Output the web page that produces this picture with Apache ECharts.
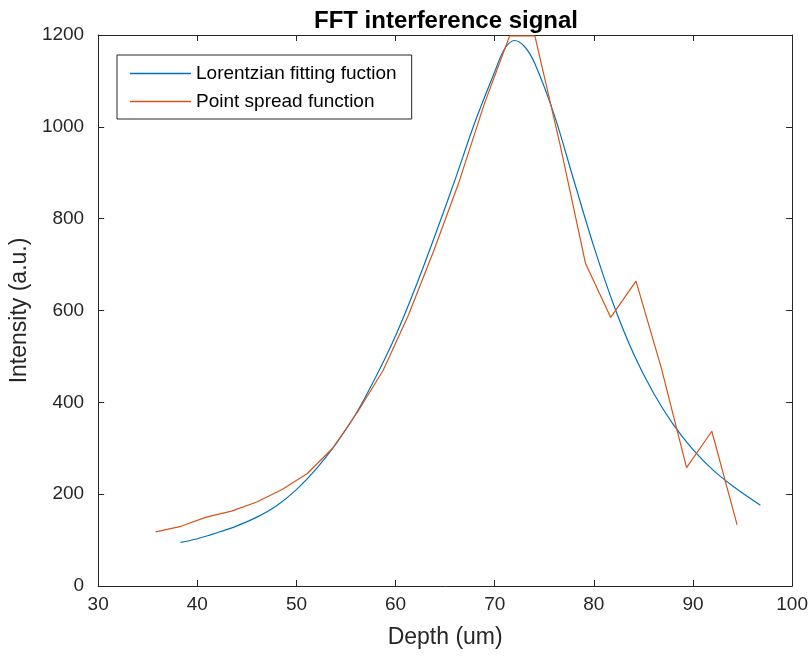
<!DOCTYPE html>
<html>
<head>
<meta charset="utf-8">
<script src="https://cdn.jsdelivr.net/npm/echarts@6/dist/echarts.min.js"></script>
<style>
  html, body { margin: 0; padding: 0; background: #fff; }
  #chart { width: 811px; height: 657px; }
</style>
</head>
<body>
<div id="chart"></div>
<script>
// Lorentzian fit, sampled along depth (um)
const fitDepth = [38.3, 40, 42, 44, 46, 48, 50, 52, 54, 56, 58, 60, 62, 64, 66, 68, 70, 71, 72, 73, 74, 76, 78, 80, 82, 84, 86, 88, 90, 92, 94, 96.8];
const fitIntensity = [95, 103, 116, 131, 150, 175, 210, 255, 310, 375, 455, 545, 650, 765, 885, 1010, 1120, 1170, 1188, 1175, 1140, 1026, 882, 739, 612, 506, 421, 352, 297, 253, 218, 176];

// Measured point spread function
const psfDepth = [35.8, 38.35, 40.9, 43.45, 46.0, 48.55, 51.1, 53.65, 56.2, 58.75, 61.3, 63.85, 66.4, 68.95, 71.5, 74.05, 76.6, 79.15, 81.7, 84.25, 86.8, 89.35, 91.9, 94.45];
const psfIntensity = [118, 130, 150, 163, 183, 210, 245, 300, 380, 470, 590, 730, 880, 1050, 1198, 1198, 960, 703, 585, 664, 475, 258, 337, 133];

const xTicks = { min: 30, max: 100, interval: 10 };
const yTicks = { min: 0, max: 1200, interval: 200 };

const seriesNames = ['Lorentzian fitting fuction', 'Point spread function'];
const colors = ['#0072BD', '#D95319'];

const textColor = '#262626';
const fontFamily = 'Liberation Sans, Arial, sans-serif';

const pairs = (xs, ys) => xs.map((x, i) => [x, ys[i]]);

const chart = echarts.init(document.getElementById('chart'), null, { renderer: 'canvas' });

const boxAxisX = (pos, showLabel) => ({
  type: 'value', position: pos, min: xTicks.min, max: xTicks.max, interval: xTicks.interval,
  axisLine: { show: true, onZero: false, lineStyle: { color: textColor, width: 1 } },
  axisTick: { show: true, inside: true, length: 6, lineStyle: { color: textColor } },
  axisLabel: { show: showLabel, color: textColor, fontSize: 19, fontFamily, margin: 9,
               formatter: v => String(v) },
  splitLine: { show: false }
});
const boxAxisY = (pos, showLabel) => ({
  type: 'value', position: pos, min: yTicks.min, max: yTicks.max, interval: yTicks.interval,
  axisLine: { show: true, onZero: false, lineStyle: { color: textColor, width: 1 } },
  axisTick: { show: true, inside: true, length: 6, lineStyle: { color: textColor } },
  axisLabel: { show: showLabel, color: textColor, fontSize: 19, fontFamily, margin: 14,
               formatter: v => String(v) },
  splitLine: { show: false }
});

const xMain = Object.assign(boxAxisX('bottom', true), {
  name: 'Depth (um)', nameLocation: 'middle', nameGap: 40,
  nameTextStyle: { color: textColor, fontSize: 23, fontFamily }
});
const yMain = Object.assign(boxAxisY('left', true), {
  name: 'Intensity (a.u.)', nameLocation: 'middle', nameGap: 57,
  nameTextStyle: { color: textColor, fontSize: 23, fontFamily }
});

chart.setOption({
  animation: false,
  backgroundColor: '#ffffff',
  title: {
    text: 'FFT interference signal',
    left: 441, top: 4, textAlign: 'center',
    textStyle: { color: '#000', fontSize: 24, fontWeight: 'bold', fontFamily }
  },
  grid: { left: 97, right: 17, top: 35, bottom: 71, containLabel: false },
  xAxis: [xMain, boxAxisX('top', false)],
  yAxis: [yMain, boxAxisY('right', false)],
  legend: {
    orient: 'vertical',
    left: 117, top: 55,
    data: seriesNames,
    icon: 'rect',
    itemWidth: 61, itemHeight: 1.5, itemGap: 9,
    padding: [9, 15, 8, 13],
    borderColor: textColor, borderWidth: 1,
    backgroundColor: '#fff',
    textStyle: { color: '#000', fontSize: 19, fontFamily, lineHeight: 18, padding: [0, 0, 0, 0] },
    selectedMode: false
  },
  series: [
    {
      name: seriesNames[0], type: 'line', xAxisIndex: 0, yAxisIndex: 0,
      data: pairs(fitDepth, fitIntensity),
      showSymbol: false, symbol: 'none', smooth: 0.35,
      lineStyle: { color: colors[0], width: 1.2 }, itemStyle: { color: colors[0] }
    },
    {
      name: seriesNames[1], type: 'line', xAxisIndex: 0, yAxisIndex: 0,
      data: pairs(psfDepth, psfIntensity),
      showSymbol: false, symbol: 'none', smooth: false,
      lineStyle: { color: colors[1], width: 1.2 }, itemStyle: { color: colors[1] }
    }
  ]
});
</script>
</body>
</html>
